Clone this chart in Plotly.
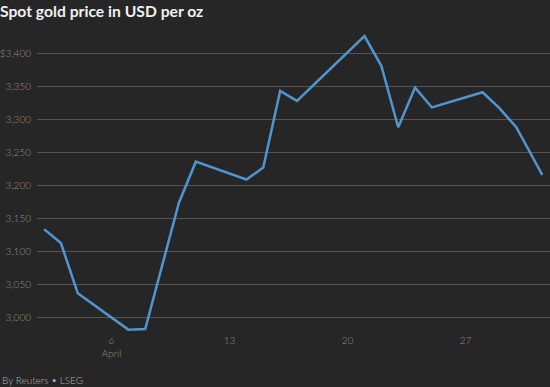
import plotly.graph_objects as go

dates = ["2025-04-02", "2025-04-03", "2025-04-04", "2025-04-07", "2025-04-08",
         "2025-04-09", "2025-04-10", "2025-04-11", "2025-04-14", "2025-04-15",
         "2025-04-16", "2025-04-17", "2025-04-21", "2025-04-22", "2025-04-23",
         "2025-04-24", "2025-04-25", "2025-04-28", "2025-04-29", "2025-04-30",
         "2025-05-01 13:00"]
prices = [3134, 3113, 3037, 2982, 2983,
          3080, 3174, 3236, 3209, 3227,
          3343, 3328, 3426, 3381, 3288,
          3348, 3318, 3341, 3317, 3288,
          3216]

y_ticks = [3000, 3050, 3100, 3150, 3200, 3250, 3300, 3350, 3400]
y_labels = ["3,000", "3,050", "3,100", "3,150", "3,200", "3,250", "3,300", "3,350", "$3,400"]
x_ticks = ["2025-04-06", "2025-04-13", "2025-04-20", "2025-04-27"]
x_labels = ["6<br>April", "13", "20", "27"]

BG = "#262626"
FONT = "Lato"

fig = go.Figure()
fig.add_trace(go.Scatter(
    x=dates, y=prices, mode="lines",
    line=dict(color="#4f96d0", width=2.5),
    hoverinfo="x+y",
))

fig.update_layout(
    width=550, height=387,
    paper_bgcolor=BG, plot_bgcolor=BG,
    margin=dict(l=37, r=0, t=30, b=54),
    showlegend=False,
    font=dict(family=FONT, color="#8f8f8f", size=10),
    title=dict(
        text="<b>Spot gold price in USD per oz</b>",
        x=0, xref="container", xanchor="left",
        y=1 - 12 / 387, yref="container", yanchor="middle",
        font=dict(family=FONT, size=15.7, color="#f0f0f0"),
    ),
    xaxis=dict(
        type="date",
        range=["2025-04-01 14:00", "2025-05-02 00:00"],
        tickvals=x_ticks, ticktext=x_labels,
        showgrid=False, zeroline=False, showline=False, ticks="",
        tickfont=dict(family=FONT, size=10, color="#8f8f8f", weight=300),
    ),
    yaxis=dict(
        range=[2976.9, 3435.1],
        tickvals=y_ticks, ticktext=y_labels,
        showgrid=True, gridcolor="#555555", gridwidth=1,
        zeroline=False, showline=False, ticks="",
        ticklabelstandoff=5,
        tickfont=dict(family=FONT, size=10, color="#8f8f8f", weight=300),
    ),
    annotations=[dict(
        text="By Reuters • LSEG", xref="paper", yref="paper",
        x=0, y=0, xanchor="left", yanchor="middle",
        xshift=-37, yshift=-47, showarrow=False,
        font=dict(family=FONT, size=10, color="#b0b0b0", weight=300),
    )],
)

fig.write_html("out.html", config={"displayModeBar": False},
               post_script="document.body.style.margin='0';document.body.style.overflow='hidden';")
